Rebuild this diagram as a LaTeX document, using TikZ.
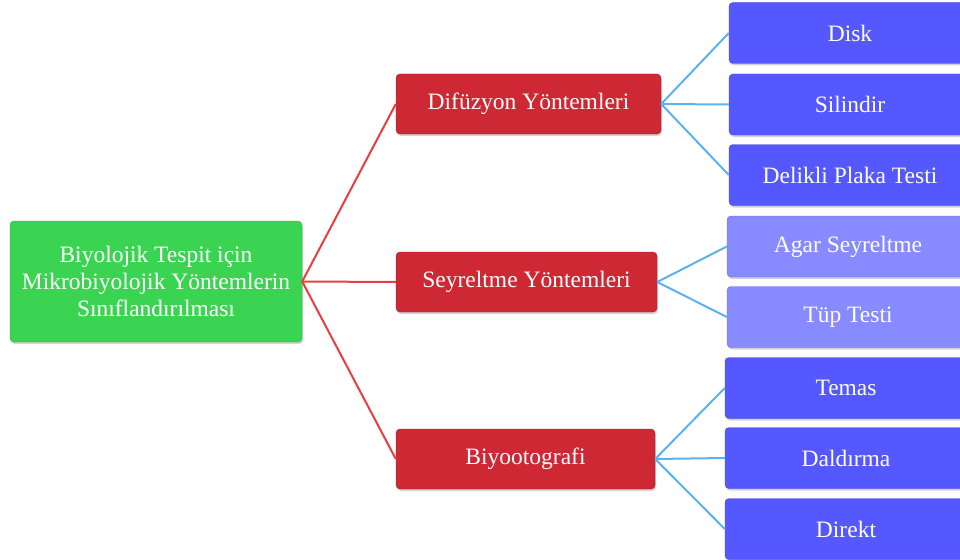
\documentclass[tikz,border=0pt]{standalone}
\usepackage{fontspec}
\setmainfont{Liberation Serif}
\usetikzlibrary{shadows}
\definecolor{rootgreen}{RGB}{59,212,82}
\definecolor{catred}{RGB}{206,40,52}
\definecolor{leafblue}{RGB}{86,88,255}
\definecolor{leaflight}{RGB}{136,138,255}
\definecolor{redline}{RGB}{232,62,62}
\definecolor{blueline}{RGB}{92,178,240}
\tikzset{
  box/.style={rectangle, rounded corners=4pt, text=white, align=center, inner sep=0pt,
    font=\fontsize{23.5}{27}\selectfont, drop shadow={shadow xshift=1pt, shadow yshift=-2pt, opacity=0.35}},
  rootbox/.style={box, fill=rootgreen, draw=rootgreen!80!black, line width=0.4pt, minimum width=292pt, minimum height=121pt},
  catbox/.style={box, fill=catred, draw=catred!80!black, line width=0.4pt, minimum width=265pt, minimum height=60pt},
  leafbox/.style={box, fill=leafblue, draw=leafblue!80!black, line width=0.4pt, minimum width=242pt, minimum height=61pt},
  lightbox/.style={box, fill=leaflight, draw=leaflight!80!black, line width=0.4pt, minimum width=242pt, minimum height=61pt},
  redlink/.style={draw=redline, line width=2pt},
  bluelink/.style={draw=blueline, line width=2pt}
}
\begin{document}
\begin{tikzpicture}[x=1pt,y=-1pt]
\useasboundingbox (0,0) rectangle (960,559);
\begin{scope}
\clip (0,0) rectangle (960,559);
\node[rootbox] (root) at (156,281.5) {Biyolojik Tespit için\\Mikrobiyolojik Yöntemlerin\\Sınıflandırılması};
\node[catbox] (dif) at (528.5,104) {Difüzyon Yöntemleri};
\node[catbox, minimum width=261pt] (sey) at (526.5,282) {Seyreltme Yöntemleri};
\node[catbox, minimum width=259pt] (bio) at (525.5,459) {Biyootografi};
\node[leafbox] (disk) at (850,33) {Disk};
\node[leafbox] (sil) at (850,104.5) {Silindir};
\node[leafbox] (del) at (850,175) {Delikli Plaka Testi};
\node[lightbox] (agar) at (848,246.5) {Agar Seyreltme};
\node[lightbox] (tup) at (848,317) {Tüp Testi};
\node[leafbox] (tem) at (846,388) {Temas};
\node[leafbox] (dal) at (846,458) {Daldırma};
\node[leafbox] (dir) at (846,529) {Direkt};
\path[redlink] (root.east) -- (dif.west);
\path[redlink] (root.east) -- (sey.west);
\path[redlink] (root.east) -- (bio.west);
\path[bluelink] (dif.east) -- (disk.west);
\path[bluelink] (dif.east) -- (sil.west);
\path[bluelink] (dif.east) -- (del.west);
\path[bluelink] (sey.east) -- (agar.west);
\path[bluelink] (sey.east) -- (tup.west);
\path[bluelink] (bio.east) -- (tem.west);
\path[bluelink] (bio.east) -- (dal.west);
\path[bluelink] (bio.east) -- (dir.west);
\end{scope}
\end{tikzpicture}
\end{document}
